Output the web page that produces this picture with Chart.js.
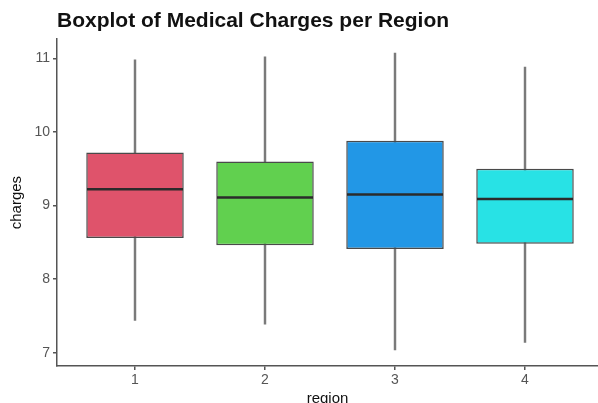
<!DOCTYPE html>
<html>
<head>
<meta charset="utf-8">
<script src="https://cdn.jsdelivr.net/npm/chart.js@4.4.1/dist/chart.umd.min.js"></script>
<style>
  body { margin: 0; background: #fff; overflow: hidden; }
</style>
</head>
<body>
<canvas id="mycanvas" width="598" height="403"></canvas>
<script>
// boxplot stats (log charges)
var regions = ['1', '2', '3', '4'];
var lower  = [7.44, 7.39, 7.04, 7.14];
var q1     = [8.56, 8.46, 8.41, 8.48];
var median = [9.22, 9.11, 9.15, 9.09];
var q3     = [9.72, 9.60, 9.88, 9.50];
var upper  = [10.98, 11.02, 11.07, 10.88];
var yTicks = [7, 8, 9, 10, 11];
var boxColors = ['#DF536B', '#61D04F', '#2297E6', '#28E2E5'];

var whiskers = [], boxes = [], medians = [];
for (var i in regions) {
  var x = Number(i) + 1;
  whiskers.push({x: x, y: [lower[i], upper[i]]});
  boxes.push({x: x, y: [q1[i], q3[i]]});
  medians.push({x: x, y: median[i]});
}

var axisColor = '#555555';
var font = 'Liberation Sans, Arial, sans-serif';

var ctx = document.getElementById('mycanvas');
var chart = new Chart(ctx, {
  data: {
    datasets: [
      {
        type: 'bar',
        data: whiskers,
        grouped: false,
        barThickness: 1.8,
        backgroundColor: '#7a7a7a',
        borderWidth: 0,
        order: 3
      },
      {
        type: 'bar',
        data: boxes,
        grouped: false,
        barPercentage: 0.75,
        categoryPercentage: 1,
        backgroundColor: boxColors,
        borderColor: '#4a4a4a',
        borderWidth: 1.5,
        borderSkipped: false,
        order: 2
      },
      {
        type: 'scatter',
        data: medians,
        pointStyle: 'line',
        pointRadius: 48,
        pointHoverRadius: 48,
        borderColor: '#2b2b2b',
        borderWidth: 2.5,
        order: 1
      }
    ]
  },
  options: {
    responsive: false,
    animation: false,
    layout: { padding: 0, autoPadding: false },
    plugins: {
      legend: { display: false },
      tooltip: { enabled: false },
      title: {
        display: true,
        text: 'Boxplot of Medical Charges per Region',
        align: 'start',
        fullSize: false,
        color: '#111',
        font: { family: font, size: 21, weight: 'bold' },
        padding: { top: 9, bottom: 5 }
      }
    },
    scales: {
      x: {
        type: 'linear',
        offset: false,
        min: 0.4,
        max: 4.5615,
        afterBuildTicks: function(s) {
          s.ticks = regions.map(function(r, k) { return {value: k + 1}; });
        },
        afterFit: function(s) { s.height = 37; },
        ticks: {
          color: axisColor,
          font: { family: font, size: 14 },
          padding: 2,
          callback: function(v) { return regions[v - 1]; }
        },
        grid: {
          offset: false,
          drawOnChartArea: false,
          drawTicks: true,
          tickLength: 4,
          tickColor: axisColor,
          lineWidth: 1.5
        },
        border: { display: true, color: axisColor, width: 1.5 },
        title: {
          display: true,
          text: 'region',
          color: '#111',
          font: { family: font, size: 15 },
          padding: { top: 0, bottom: -5 }
        }
      },
      y: {
        min: 6.82,
        max: 11.26,
        afterBuildTicks: function(s) {
          s.ticks = yTicks.map(function(v) { return {value: v}; });
        },
        afterFit: function(s) { s.width = 57; },
        ticks: {
          color: axisColor,
          font: { family: font, size: 14 },
          padding: 3
        },
        grid: {
          drawOnChartArea: false,
          drawTicks: true,
          tickLength: 4,
          tickColor: axisColor,
          lineWidth: 1.5
        },
        border: { display: true, color: axisColor, width: 1.5 },
        title: {
          display: true,
          text: 'charges',
          color: '#111',
          font: { family: font, size: 15 },
          padding: { top: 8, bottom: 0 }
        }
      }
    }
  }
});
</script>
</body>
</html>
